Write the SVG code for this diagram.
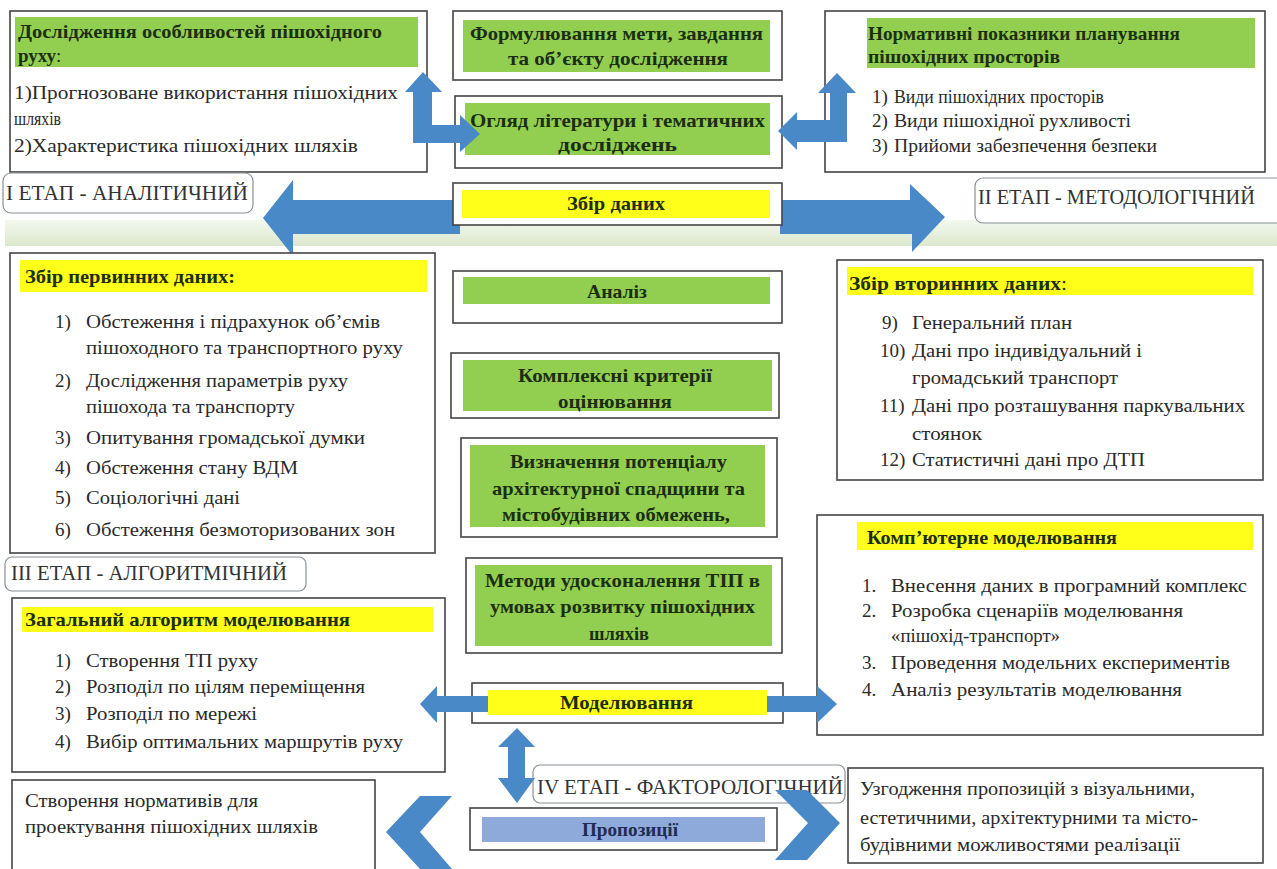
<svg xmlns="http://www.w3.org/2000/svg" width="1277" height="869" viewBox="0 0 1277 869" font-family="'Liberation Serif','DejaVu Serif','Noto Serif',serif">
<defs>
<linearGradient id="band" x1="0" y1="0" x2="0" y2="1">
<stop offset="0" stop-color="#f3f8ee"/>
<stop offset="1" stop-color="#dbe8cd"/>
</linearGradient>
</defs>
<style>
.box{fill:#fff;stroke:#444;stroke-width:1.6}
.lbl{fill:#fff;stroke:#8a8f95;stroke-width:1.2}
.g{fill:#92cf50}
.y{fill:#ffff1a}
.b{fill:#8eaadb}
.arr{fill:#4a89c8}
text{font-family:'Liberation Serif','DejaVu Serif','Noto Serif',serif;fill:#2a2a2a}
.t{font-size:19px}
.h{font-size:19px;font-weight:bold;fill:#1c2e12}
.st{font-size:20px;fill:#333}
</style>
<rect x="5" y="220" width="1272" height="26" fill="url(#band)"/>

<g id="connectors">
<path class="arr" d="M460,200 L293,200 L293,180 L263,218 L293,256 L293,234 L460,234 Z"/>
<path class="arr" d="M780,200 L910,200 L910,184 L945,217 L912,252 L912,234 L780,234 Z"/>
</g>

<g id="n-doslidzhennia">
<rect class="box" x="10" y="11" width="417" height="161"/>
<rect class="g" x="15" y="17" width="403" height="50"/>
<text class="h" x="18" y="38" textLength="364" lengthAdjust="spacingAndGlyphs">Дослідження особливостей пішохідного</text>
<text class="h" x="18" y="62">руху<tspan font-weight="normal">:</tspan></text>
<text class="t" x="14" y="99" textLength="384" lengthAdjust="spacingAndGlyphs">1)Прогнозоване використання пішохідних</text>
<text class="t" x="14" y="125" textLength="47" lengthAdjust="spacingAndGlyphs">шляхів</text>
<text class="t" x="14" y="152" textLength="344" lengthAdjust="spacingAndGlyphs">2)Характеристика пішохідних шляхів</text>
</g>

<g id="n-formuliuvannia">
<rect class="box" x="453" y="11" width="329" height="69"/>
<rect class="g" x="463" y="20" width="307" height="52"/>
<text class="h" x="470" y="40" textLength="293" lengthAdjust="spacingAndGlyphs">Формулювання мети, завдання</text>
<text class="h" x="508" y="65" textLength="220" lengthAdjust="spacingAndGlyphs">та об’єкту  дослідження</text>
</g>

<g id="n-ohliad">
<rect class="box" x="455" y="96" width="327" height="72"/>
<rect class="g" x="465" y="103" width="305" height="52"/>
<text class="h" x="470" y="127" textLength="295" lengthAdjust="spacingAndGlyphs">Огляд літератури і тематичних</text>
<text class="h" x="558" y="151" textLength="119" lengthAdjust="spacingAndGlyphs">досліджень</text>
</g>

<g id="n-normatyvni">
<rect class="box" x="825" y="11" width="440" height="161"/>
<rect class="g" x="867" y="18" width="388" height="50"/>
<text class="h" x="868" y="40" textLength="312" lengthAdjust="spacingAndGlyphs">Нормативні показники планування</text>
<text class="h" x="868" y="63" textLength="192" lengthAdjust="spacingAndGlyphs">пішохідних просторів</text>
<text class="t" x="872" y="103">1)</text><text class="t" x="894" y="103" textLength="210" lengthAdjust="spacingAndGlyphs">Види пішохідних просторів</text>
<text class="t" x="872" y="127">2)</text><text class="t" x="894" y="127" textLength="237" lengthAdjust="spacingAndGlyphs">Види пішохідної рухливості</text>
<text class="t" x="872" y="152">3)</text><text class="t" x="894" y="152" textLength="263" lengthAdjust="spacingAndGlyphs">Прийоми забезпечення безпеки</text>
</g>

<g id="n-etap1">
<rect class="lbl" x="3" y="173" width="250" height="40" rx="8"/>
<text class="st" x="6" y="200" textLength="242" lengthAdjust="spacingAndGlyphs">І ЕТАП - АНАЛІТИЧНИЙ</text>
</g>

<g id="n-zbir">
<rect class="box" x="453" y="183" width="329" height="42"/>
<rect class="y" x="462" y="190" width="308" height="28"/>
<text class="h" x="567" y="210" textLength="98" lengthAdjust="spacingAndGlyphs">Збір даних</text>
</g>

<g id="n-etap2">
<rect class="lbl" x="975" y="178" width="320" height="45" rx="8"/>
<text class="st" x="978" y="204" textLength="277" lengthAdjust="spacingAndGlyphs">ІІ ЕТАП - МЕТОДОЛОГІЧНИЙ</text>
</g>

<g id="n-pervynni">
<rect class="box" x="10" y="253" width="425" height="300"/>
<rect class="y" x="20" y="260" width="407" height="32"/>
<text class="h" x="25" y="283" textLength="210" lengthAdjust="spacingAndGlyphs">Збір первинних даних:</text>
<text class="t" x="55" y="328">1)</text><text class="t" x="86" y="328" textLength="294" lengthAdjust="spacingAndGlyphs">Обстеження і підрахунок об’ємів</text>
<text class="t" x="86" y="354" textLength="317" lengthAdjust="spacingAndGlyphs">пішоходного та транспортного руху</text>
<text class="t" x="55" y="387">2)</text><text class="t" x="86" y="387" textLength="262" lengthAdjust="spacingAndGlyphs">Дослідження параметрів руху</text>
<text class="t" x="86" y="413" textLength="209" lengthAdjust="spacingAndGlyphs">пішохода та транспорту</text>
<text class="t" x="55" y="444">3)</text><text class="t" x="86" y="444" textLength="279" lengthAdjust="spacingAndGlyphs">Опитування громадської думки</text>
<text class="t" x="55" y="474">4)</text><text class="t" x="86" y="474" textLength="212" lengthAdjust="spacingAndGlyphs">Обстеження стану ВДМ</text>
<text class="t" x="55" y="504">5)</text><text class="t" x="86" y="504" textLength="154" lengthAdjust="spacingAndGlyphs">Соціологічні дані</text>
<text class="t" x="55" y="536">6)</text><text class="t" x="86" y="536" textLength="309" lengthAdjust="spacingAndGlyphs">Обстеження безмоторизованих зон</text>
</g>

<g id="n-analiz">
<rect class="box" x="453" y="271" width="329" height="52"/>
<rect class="g" x="463" y="277" width="307" height="27"/>
<text class="h" x="587" y="298" textLength="60" lengthAdjust="spacingAndGlyphs">Аналіз</text>
</g>

<g id="n-vtorynni">
<rect class="box" x="837" y="260" width="426" height="220"/>
<rect class="y" x="847" y="267" width="406" height="28"/>
<text class="h" x="849" y="290" textLength="218" lengthAdjust="spacingAndGlyphs">Збір вторинних даних<tspan font-weight="normal">:</tspan></text>
<text class="t" x="882" y="329">9)</text><text class="t" x="912" y="329" textLength="160" lengthAdjust="spacingAndGlyphs">Генеральний план</text>
<text class="t" x="880" y="357">10)</text><text class="t" x="912" y="357" textLength="230" lengthAdjust="spacingAndGlyphs">Дані про індивідуальний і</text>
<text class="t" x="912" y="384" textLength="206" lengthAdjust="spacingAndGlyphs">громадський транспорт</text>
<text class="t" x="880" y="412">11)</text><text class="t" x="912" y="412" textLength="333" lengthAdjust="spacingAndGlyphs">Дані про розташування паркувальних</text>
<text class="t" x="912" y="440" textLength="70" lengthAdjust="spacingAndGlyphs">стоянок</text>
<text class="t" x="880" y="466">12)</text><text class="t" x="912" y="466" textLength="233" lengthAdjust="spacingAndGlyphs">Статистичні дані про ДТП</text>
</g>

<g id="n-kryterii">
<rect class="box" x="451" y="353" width="328" height="65"/>
<rect class="g" x="463" y="360" width="309" height="51"/>
<text class="h" x="518" y="382" textLength="194" lengthAdjust="spacingAndGlyphs">Комплексні критерії</text>
<text class="h" x="558" y="408" textLength="114" lengthAdjust="spacingAndGlyphs">оцінювання</text>
</g>

<g id="n-vyznachennia">
<rect class="box" x="461" y="438" width="316" height="99"/>
<rect class="g" x="470" y="445" width="295" height="82"/>
<text class="h" x="510" y="468" textLength="217" lengthAdjust="spacingAndGlyphs">Визначення потенціалу</text>
<text class="h" x="492" y="495" textLength="253" lengthAdjust="spacingAndGlyphs">архітектурної спадщини та</text>
<text class="h" x="502" y="521" textLength="228" lengthAdjust="spacingAndGlyphs">містобудівних обмежень,</text>
</g>

<g id="n-etap3">
<rect class="lbl" x="5" y="557" width="301" height="34" rx="7"/>
<text class="st" x="11" y="580" textLength="276" lengthAdjust="spacingAndGlyphs">ІІІ ЕТАП - АЛГОРИТМІЧНИЙ</text>
</g>

<g id="n-kompiuterne">
<rect class="box" x="817" y="515" width="446" height="220"/>
<rect class="y" x="857" y="522" width="396" height="28"/>
<text class="h" x="867" y="544" textLength="250" lengthAdjust="spacingAndGlyphs">Комп’ютерне моделювання</text>
<text class="t" x="862" y="592">1.</text><text class="t" x="891" y="592" textLength="356" lengthAdjust="spacingAndGlyphs">Внесення даних в програмний комплекс</text>
<text class="t" x="862" y="617">2.</text><text class="t" x="891" y="617" textLength="292" lengthAdjust="spacingAndGlyphs">Розробка сценаріїв моделювання</text>
<text class="t" x="891" y="642" textLength="169" lengthAdjust="spacingAndGlyphs">«пішохід-транспорт»</text>
<text class="t" x="862" y="669">3.</text><text class="t" x="891" y="669" textLength="339" lengthAdjust="spacingAndGlyphs">Проведення модельних експериментів</text>
<text class="t" x="862" y="696">4.</text><text class="t" x="891" y="696" textLength="291" lengthAdjust="spacingAndGlyphs">Аналіз результатів моделювання</text>
</g>

<g id="n-metody">
<rect class="box" x="466" y="558" width="316" height="95"/>
<rect class="g" x="475" y="565" width="297" height="81"/>
<text class="h" x="485" y="587" textLength="275" lengthAdjust="spacingAndGlyphs">Методи удосконалення ТІП в</text>
<text class="h" x="490" y="613" textLength="265" lengthAdjust="spacingAndGlyphs">умовах розвитку пішохідних</text>
<text class="h" x="589" y="640" textLength="60" lengthAdjust="spacingAndGlyphs">шляхів</text>
</g>

<g id="n-alhorytm">
<rect class="box" x="12" y="598" width="433" height="174"/>
<rect class="y" x="22" y="607" width="411" height="25"/>
<text class="h" x="25" y="626" textLength="325" lengthAdjust="spacingAndGlyphs">Загальний алгоритм моделювання</text>
<text class="t" x="55" y="667">1)</text><text class="t" x="86" y="667" textLength="172" lengthAdjust="spacingAndGlyphs">Створення ТП руху</text>
<text class="t" x="55" y="693">2)</text><text class="t" x="86" y="693" textLength="279" lengthAdjust="spacingAndGlyphs">Розподіл по цілям переміщення</text>
<text class="t" x="55" y="720">3)</text><text class="t" x="86" y="720" textLength="171" lengthAdjust="spacingAndGlyphs">Розподіл по мережі</text>
<text class="t" x="55" y="748">4)</text><text class="t" x="86" y="748" textLength="317" lengthAdjust="spacingAndGlyphs">Вибір оптимальних маршрутів руху</text>
</g>

<g id="n-modeliuvannia">
<rect class="box" x="472" y="683" width="311" height="40"/>
<rect class="y" x="488" y="690" width="279" height="25"/>
<text class="h" x="560" y="709" textLength="133" lengthAdjust="spacingAndGlyphs">Моделювання</text>
</g>

<g id="n-etap4">
<rect class="lbl" x="533" y="765" width="312" height="38" rx="7"/>
<text class="st" x="537" y="794" textLength="306" lengthAdjust="spacingAndGlyphs">IV ЕТАП - ФАКТОРОЛОГІЧНИЙ</text>
</g>

<g id="n-propozytsii">
<rect class="box" x="470" y="808" width="307" height="42"/>
<rect class="b" x="482" y="817" width="283" height="25"/>
<text class="h" x="582" y="836" textLength="96" lengthAdjust="spacingAndGlyphs" style="fill:#1f2b55">Пропозиції</text>
</g>

<g id="n-normatyvy">
<rect class="box" x="12" y="780" width="363" height="95"/>
<text class="t" x="25" y="807" textLength="233" lengthAdjust="spacingAndGlyphs">Створення нормативів для</text>
<text class="t" x="25" y="833" textLength="293" lengthAdjust="spacingAndGlyphs">проектування пішохідних шляхів</text>
</g>

<g id="n-uzghodzhennia">
<rect class="box" x="848" y="768" width="415" height="95"/>
<text class="t" x="860" y="795" textLength="335" lengthAdjust="spacingAndGlyphs">Узгодження пропозицій з візуальними,</text>
<text class="t" x="860" y="824" textLength="338" lengthAdjust="spacingAndGlyphs">естетичними, архітектурними та місто-</text>
<text class="t" x="860" y="851" textLength="320" lengthAdjust="spacingAndGlyphs">будівними можливостями реалізації</text>
</g>

<g id="connectors-top">
<path class="arr" d="M413,143 L413,92 L405,92 L423,72 L442,92 L432,92 L432,125 L460,125 L460,115 L480,134 L460,152 L460,143 Z"/>
<path class="arr" d="M847,142 L847,93 L856,93 L837,73 L818,93 L830,93 L830,120 L797,120 L797,112 L778,131 L797,150 L797,142 Z"/>
<path class="arr" d="M488,696 L437,696 L437,686 L420,704 L437,723 L437,712 L488,712 Z"/>
<path class="arr" d="M767,696 L817,696 L817,686 L837,704 L817,723 L817,712 L767,712 Z"/>
<path class="arr" d="M517,728 L535,747 L525,747 L525,778 L535,778 L517,803 L498,778 L508,778 L508,747 L498,747 Z"/>
<path class="arr" d="M420,796 L452,796 L420,832 L452,869 L420,869 L386,832 Z"/>
<path class="arr" d="M775,790 L807,790 L840,823 L807,860 L775,860 L808,823 Z"/>
</g>
</svg>
